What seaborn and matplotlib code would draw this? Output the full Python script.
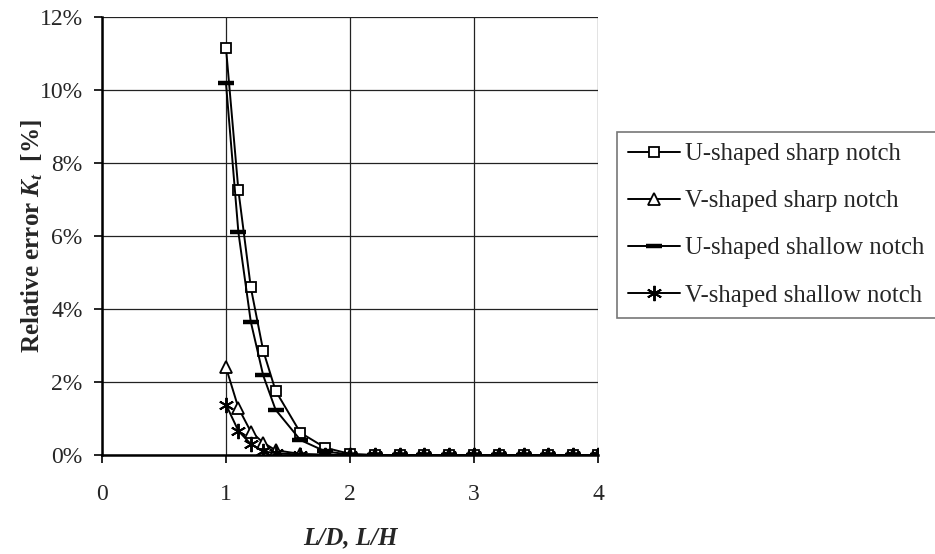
import numpy as np
import pandas as pd
import matplotlib
matplotlib.use("Agg")
import matplotlib.pyplot as plt
import seaborn as sns
from matplotlib.ticker import PercentFormatter

# ratio L/D or L/H
x_vals = [1.0, 1.1, 1.2, 1.3, 1.4, 1.6, 1.8, 2.0, 2.2, 2.4, 2.6, 2.8, 3.0, 3.2, 3.4, 3.6, 3.8, 4.0]

# relative error of Kt in percent
u_sharp = [11.15, 7.25, 4.59, 2.86, 1.76, 0.61, 0.20, 0.03, 0, 0, 0, 0, 0, 0, 0, 0, 0, 0]
v_sharp = [2.40, 1.29, 0.64, 0.34, 0.13, 0.03, 0.01, 0, 0, 0, 0, 0, 0, 0, 0, 0, 0, 0]
u_shallow = [10.18, 6.10, 3.65, 2.18, 1.24, 0.41, 0.10, 0.01, 0, 0, 0, 0, 0, 0, 0, 0, 0, 0]
v_shallow = [1.38, 0.66, 0.30, 0.10, 0.05, 0.01, 0, 0, 0, 0, 0, 0, 0, 0, 0, 0, 0, 0]

labels = ["U-shaped sharp notch", "V-shaped sharp notch",
          "U-shaped shallow notch", "V-shaped shallow notch"]

sns.set_style("white")
plt.rcParams["font.family"] = ["Liberation Serif", "DejaVu Serif"]
plt.rcParams["mathtext.fontset"] = "custom"
plt.rcParams["mathtext.bf"] = "Liberation Serif:bold:italic"
plt.rcParams["mathtext.it"] = "Liberation Serif:italic"
plt.rcParams["mathtext.rm"] = "Liberation Serif"

fig = plt.figure(figsize=(9.35, 5.54), dpi=100)
ax = fig.add_axes([102 / 935, 1 - 455 / 554, 496 / 935, 438 / 554])

styles = [
    dict(marker="s", markersize=7.5, markerfacecolor="white", markeredgewidth=1.3),
    dict(marker="^", markersize=9, markerfacecolor="white", markeredgewidth=1.3),
    dict(marker="_", markersize=11, markeredgewidth=3.2),
    dict(marker=(6, 2, 0), markersize=11, markeredgewidth=1.4),
]

for ys, lab, st in zip([u_sharp, v_sharp, u_shallow, v_shallow], labels, styles):
    df = pd.DataFrame({"x": x_vals, "y": ys})
    sns.lineplot(data=df, x="x", y="y", ax=ax, color="black", linewidth=1.4,
                 markeredgecolor="black", label=lab, **st)

ax.set_xlim(0, 4)
ax.set_ylim(0, 12)
ax.set_xticks([0, 1, 2, 3, 4])
ax.set_yticks(np.arange(0, 13, 2))
ax.yaxis.set_major_formatter(PercentFormatter(decimals=0))
ax.grid(True, color="#222222", linewidth=0.9)
for s in ["top", "right"]:
    ax.spines[s].set_visible(False)
ax.spines["left"].set_color("black")
ax.spines["left"].set_linewidth(1.8)
ax.spines["bottom"].set_color("black")
ax.spines["bottom"].set_linewidth(1.8)
ax.tick_params(axis="both", direction="out", length=6, width=1.2,
               color="black", labelsize=17, bottom=True, left=True)
ax.tick_params(axis="y", pad=8)
ax.tick_params(axis="x", pad=15)

ax.set_xlabel("L/D, L/H", fontsize=18, fontweight="bold", fontstyle="italic", labelpad=15)
ax.set_ylabel(r"Relative error $\mathbf{K_t}$  [%]", fontsize=18, fontweight="bold", labelpad=-4)

ax.get_legend().remove()
handles, labs = ax.get_legend_handles_labels()
leg = fig.legend(handles, labs, loc="upper left",
                 bbox_to_anchor=(617 / 935, 1 - 132 / 554), fontsize=17.8,
                 frameon=True, fancybox=False, edgecolor="#555555",
                 handlelength=2.08, handletextpad=0.24, labelspacing=1.0,
                 borderpad=0.45, borderaxespad=0)
leg.get_frame().set_linewidth(1.2)

fig.savefig("out.png", dpi=100)
